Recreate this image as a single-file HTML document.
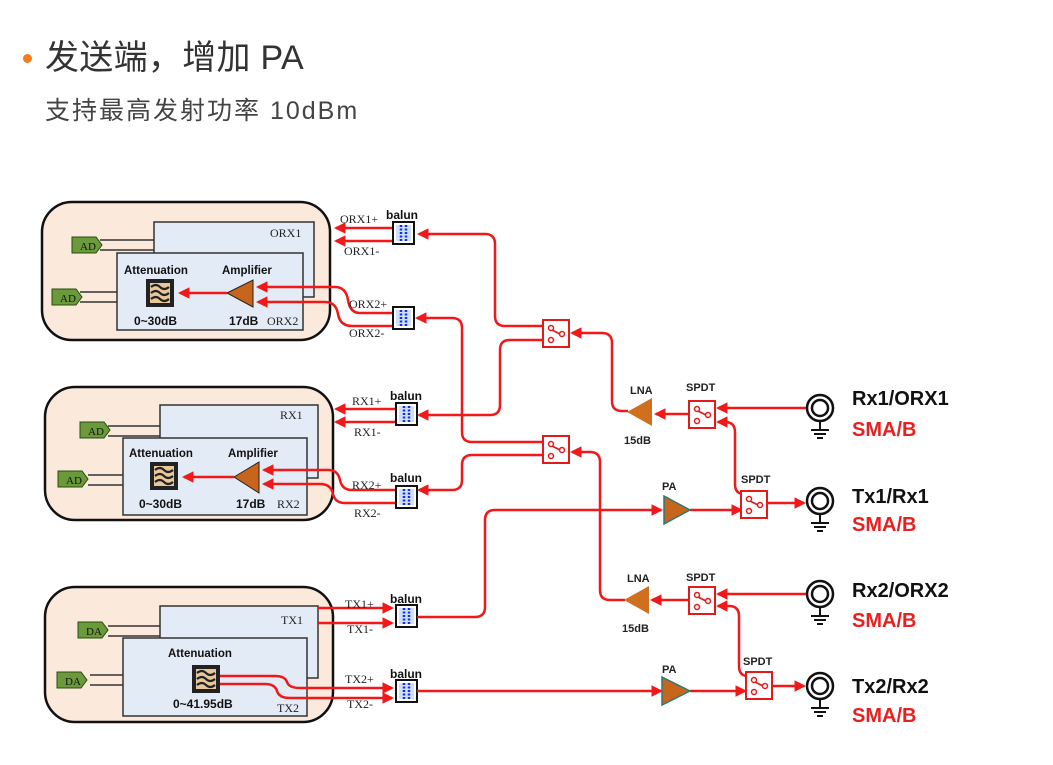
<!DOCTYPE html>
<html><head><meta charset="utf-8"><style>
html,body{margin:0;padding:0;background:#fff;}
body{width:1053px;height:765px;overflow:hidden;position:relative;font-family:"Liberation Sans","Noto Sans CJK SC",sans-serif;}
.h1{position:absolute;left:45px;top:37px;font-size:34px;line-height:42px;color:#333;white-space:nowrap;letter-spacing:0.3px;}
.dot{position:absolute;left:23px;top:54px;width:9px;height:9px;border-radius:50%;background:#f07c1e;}
.h2{position:absolute;left:45px;top:95px;font-size:25px;line-height:32px;color:#444;white-space:nowrap;letter-spacing:2px;}
svg{position:absolute;left:0;top:0;}
.w{fill:none;stroke:#f01818;stroke-width:2.5;}
.b{font-family:"Liberation Sans",sans-serif;font-weight:bold;}
.s{font-family:"Liberation Serif",serif;}
</style></head><body>
<div class="dot"></div>
<div class="h1">发送端，增加 PA</div>
<div class="h2">支持最高发射功率 10dBm</div>
<svg width="1053" height="765" viewBox="0 0 1053 765">
<defs>
<marker id="a" markerWidth="4.6" markerHeight="4.6" refX="3.8" refY="2.3" orient="auto" markerUnits="strokeWidth"><path d="M0,0 L4.6,2.3 L0,4.6 Z" fill="#f01818"/></marker>
<g id="att"><rect x="0" y="0" width="28" height="28" fill="#222"/><rect x="4" y="4" width="20" height="20" fill="#e8c79a"/><path d="M5,8 q5,-4 9,0 t9,0 M5,14 q5,-4 9,0 t9,0 M5,20 q5,-4 9,0 t9,0" stroke="#222" stroke-width="2.2" fill="none"/></g>
<g id="bal"><rect x="0" y="0" width="21" height="22" fill="#fff" stroke="#111" stroke-width="2"/><rect x="3" y="3" width="15" height="16" fill="#cfe0ff"/><path d="M8,3 v16 M13,3 v16" stroke="#1030e0" stroke-width="2.5" stroke-dasharray="2,1.5"/></g>
<g id="sw"><rect x="0" y="0" width="26" height="27" fill="#fff" stroke="#e21a1a" stroke-width="2"/><circle cx="8" cy="8" r="2.5" fill="none" stroke="#e21a1a" stroke-width="1.5"/><circle cx="8" cy="20" r="2.5" fill="none" stroke="#e21a1a" stroke-width="1.5"/><circle cx="19" cy="14" r="2.5" fill="none" stroke="#e21a1a" stroke-width="1.5"/><path d="M9,10 L17,14" stroke="#e21a1a" stroke-width="1.8"/></g>
<g id="sma"><circle r="13" fill="#fff" stroke="#111" stroke-width="2.5"/><circle r="8" fill="none" stroke="#111" stroke-width="2.5"/><path d="M0,13 v9 M-9,22 h18 M-6,26 h12 M-3,30 h6" stroke="#111" stroke-width="2"/></g>
</defs>

<!-- ORX block -->
<rect x="42" y="202" width="288" height="138" rx="30" fill="#fbe9dc" stroke="#111" stroke-width="2.5"/>
<rect x="154" y="222" width="160" height="75" fill="#e3ebf6" stroke="#333" stroke-width="1.5"/>
<rect x="117" y="253" width="186" height="77" fill="#e3ebf6" stroke="#333" stroke-width="1.5"/>
<path d="M100,240 H154 M100,250 H154" stroke="#333" stroke-width="1.5"/>
<path d="M80,292 H117 M80,302 H117" stroke="#333" stroke-width="1.5"/>
<path d="M72,237 h24 l6,8 l-6,8 h-24 z" fill="#6b9a3a" stroke="#2a4a10"/>
<text x="80" y="250" class="s" font-size="11" fill="#111">AD</text>
<path d="M52,289 h24 l6,8 l-6,8 h-24 z" fill="#6b9a3a" stroke="#2a4a10"/>
<text x="60" y="302" class="s" font-size="11" fill="#111">AD</text>
<text x="270" y="237" class="s" font-size="12" fill="#222">ORX1</text>
<text x="124" y="274" class="b" font-size="11.5" fill="#111">Attenuation</text>
<text x="222" y="274" class="b" font-size="11.5" fill="#111">Amplifier</text>
<use href="#att" x="146" y="279"/>
<path d="M227,293 L253,280 L253,307 Z" fill="#c8651c" stroke="#222"/>
<path class="w" d="M227,293 H180" marker-end="url(#a)"/>
<text x="134" y="325" class="b" font-size="12" fill="#111">0~30dB</text>
<text x="229" y="325" class="b" font-size="12" fill="#111">17dB</text>
<text x="267" y="325" class="s" font-size="12" fill="#222">ORX2</text>

<!-- RX block -->
<rect x="45" y="387" width="288" height="133" rx="30" fill="#fbe9dc" stroke="#111" stroke-width="2.5"/>
<rect x="160" y="405" width="158" height="73" fill="#e3ebf6" stroke="#333" stroke-width="1.5"/>
<rect x="123" y="438" width="184" height="77" fill="#e3ebf6" stroke="#333" stroke-width="1.5"/>
<path d="M108,426 H160 M108,436 H160" stroke="#333" stroke-width="1.5"/>
<path d="M88,475 H123 M88,485 H123" stroke="#333" stroke-width="1.5"/>
<path d="M80,422 h24 l6,8 l-6,8 h-24 z" fill="#6b9a3a" stroke="#2a4a10"/>
<text x="88" y="435" class="s" font-size="11" fill="#111">AD</text>
<path d="M58,471 h24 l6,8 l-6,8 h-24 z" fill="#6b9a3a" stroke="#2a4a10"/>
<text x="66" y="484" class="s" font-size="11" fill="#111">AD</text>
<text x="280" y="419" class="s" font-size="12" fill="#222">RX1</text>
<text x="129" y="457" class="b" font-size="11.5" fill="#111">Attenuation</text>
<text x="228" y="457" class="b" font-size="11.5" fill="#111">Amplifier</text>
<use href="#att" x="150" y="462"/>
<path d="M234,477 L259,462 L259,493 Z" fill="#c8651c" stroke="#222"/>
<path class="w" d="M234,477 H184" marker-end="url(#a)"/>
<text x="139" y="508" class="b" font-size="12" fill="#111">0~30dB</text>
<text x="236" y="508" class="b" font-size="12" fill="#111">17dB</text>
<text x="277" y="508" class="s" font-size="12" fill="#222">RX2</text>

<!-- TX block -->
<rect x="45" y="587" width="288" height="135" rx="30" fill="#fbe9dc" stroke="#111" stroke-width="2.5"/>
<rect x="160" y="606" width="158" height="72" fill="#e3ebf6" stroke="#333" stroke-width="1.5"/>
<rect x="123" y="638" width="184" height="78" fill="#e3ebf6" stroke="#333" stroke-width="1.5"/>
<path d="M108,626 H160 M108,636 H160" stroke="#333" stroke-width="1.5"/>
<path d="M90,675 H123 M90,685 H123" stroke="#333" stroke-width="1.5"/>
<path d="M78,622 h24 l6,8 l-6,8 h-24 z" fill="#6b9a3a" stroke="#2a4a10"/>
<text x="86" y="635" class="s" font-size="11" fill="#111">DA</text>
<path d="M57,672 h24 l6,8 l-6,8 h-24 z" fill="#6b9a3a" stroke="#2a4a10"/>
<text x="65" y="685" class="s" font-size="11" fill="#111">DA</text>
<text x="281" y="624" class="s" font-size="12" fill="#222">TX1</text>
<text x="168" y="657" class="b" font-size="11.5" fill="#111">Attenuation</text>
<use href="#att" x="192" y="665"/>
<text x="173" y="708" class="b" font-size="12" fill="#111">0~41.95dB</text>
<text x="277" y="712" class="s" font-size="12" fill="#222">TX2</text>

<!-- wires to blocks -->
<path class="w" d="M393,228 H336" marker-end="url(#a)"/>
<path class="w" d="M393,241 H336" marker-end="url(#a)"/>
<path class="w" d="M393,313 H360 Q350,313 348,300 Q346,287 335,287 H258" marker-end="url(#a)"/>
<path class="w" d="M393,326 H352 Q340,326 338,314 Q336,302 325,302 H258" marker-end="url(#a)"/>
<path class="w" d="M396,409 H336" marker-end="url(#a)"/>
<path class="w" d="M396,422 H336" marker-end="url(#a)"/>
<path class="w" d="M396,490 H352 Q342,490 340,480 Q338,470 328,470 H264" marker-end="url(#a)"/>
<path class="w" d="M396,503 H345 Q335,503 333,494 Q331,484 320,484 H264" marker-end="url(#a)"/>
<path class="w" d="M318,608 H392" marker-end="url(#a)"/>
<path class="w" d="M318,623 H392" marker-end="url(#a)"/>
<path class="w" d="M220,676 H275 Q285,676 287,682 Q289,688 300,688 H392" marker-end="url(#a)"/>
<path class="w" d="M220,684 H265 Q275,684 277,691 Q279,698 290,698 H392" marker-end="url(#a)"/>

<!-- baluns -->
<use href="#bal" x="393" y="222"/>
<use href="#bal" x="393" y="307"/>
<use href="#bal" x="396" y="403"/>
<use href="#bal" x="396" y="486"/>
<use href="#bal" x="396" y="605"/>
<use href="#bal" x="396" y="680"/>
<g class="s" font-size="12" fill="#222">
<text x="340" y="223">ORX1+</text><text x="344" y="255">ORX1-</text>
<text x="349" y="308">ORX2+</text><text x="349" y="337">ORX2-</text>
<text x="352" y="405">RX1+</text><text x="354" y="436">RX1-</text>
<text x="352" y="489">RX2+</text><text x="354" y="517">RX2-</text>
<text x="345" y="608">TX1+</text><text x="347" y="633">TX1-</text>
<text x="345" y="683">TX2+</text><text x="347" y="708">TX2-</text>
</g>
<g class="b" font-size="12" fill="#111">
<text x="386" y="219">balun</text><text x="390" y="400">balun</text><text x="390" y="482">balun</text>
<text x="390" y="603">balun</text><text x="390" y="678">balun</text>
</g>

<!-- routing -->
<path class="w" d="M543,326 H505 Q495,326 495,316 V244 Q495,234 485,234 H419" marker-end="url(#a)"/>
<path class="w" d="M543,340 H510 Q500,340 500,350 V405 Q500,415 490,415 H419" marker-end="url(#a)"/>
<path class="w" d="M543,442 H472 Q462,442 462,432 V328 Q462,318 452,318 H417" marker-end="url(#a)"/>
<path class="w" d="M543,455 H472 Q462,455 462,465 V480 Q462,490 452,490 H419" marker-end="url(#a)"/>
<path class="w" d="M628,411 H622 Q612,411 612,401 V343 Q612,333 602,333 H572" marker-end="url(#a)"/>
<path class="w" d="M625,600 H610 Q600,600 600,590 V462 Q600,452 590,452 H572" marker-end="url(#a)"/>
<path class="w" d="M417,617 H475 Q485,617 485,607 V520 Q485,510 495,510 H661" marker-end="url(#a)"/>
<path class="w" d="M417,691 H661" marker-end="url(#a)"/>
<path class="w" d="M690,510 H741" marker-end="url(#a)"/>
<path class="w" d="M690,691 H745" marker-end="url(#a)"/>
<path class="w" d="M767,503 H804" marker-end="url(#a)"/>
<path class="w" d="M772,686 H804" marker-end="url(#a)"/>
<path class="w" d="M807,408 H718" marker-end="url(#a)"/>
<path class="w" d="M807,594 H718" marker-end="url(#a)"/>
<path class="w" d="M744,494 Q735,494 735,484 V432 Q735,422 725,422 H718" marker-end="url(#a)"/>
<path class="w" d="M748,676 Q739,676 739,666 V616 Q739,606 729,606 H718" marker-end="url(#a)"/>
<path class="w" d="M689,414 H656" marker-end="url(#a)"/>
<path class="w" d="M689,600 H652" marker-end="url(#a)"/>

<use href="#sw" x="543" y="320"/>
<use href="#sw" x="543" y="436"/>
<use href="#sw" x="689" y="401"/>
<use href="#sw" x="741" y="491"/>
<use href="#sw" x="689" y="587"/>
<use href="#sw" x="746" y="672"/>

<path d="M627,412 L652,398 L652,426 Z" fill="#d0701e"/>
<path d="M624,600 L649,586 L649,614 Z" fill="#d0701e"/>
<path d="M664,496 L690,510 L664,524 Z" fill="#c8651c" stroke="#2a7a7a" stroke-width="1.5"/>
<path d="M662,677 L690,691 L662,705 Z" fill="#c8651c" stroke="#2a7a7a" stroke-width="1.5"/>
<g class="b" font-size="11" fill="#222">
<text x="630" y="394">LNA</text><text x="624" y="444">15dB</text>
<text x="627" y="582">LNA</text><text x="622" y="632">15dB</text>
<text x="662" y="490">PA</text><text x="662" y="673">PA</text>
<text x="686" y="391">SPDT</text><text x="741" y="483">SPDT</text>
<text x="686" y="581">SPDT</text><text x="743" y="665">SPDT</text>
</g>

<use href="#sma" x="820" y="408"/>
<use href="#sma" x="820" y="501"/>
<use href="#sma" x="820" y="594"/>
<use href="#sma" x="820" y="686"/>
<g class="b" font-size="20">
<text x="852" y="405" fill="#111">Rx1/ORX1</text><text x="852" y="436" fill="#e82020">SMA/B</text>
<text x="852" y="503" fill="#111">Tx1/Rx1</text><text x="852" y="531" fill="#e82020">SMA/B</text>
<text x="852" y="597" fill="#111">Rx2/ORX2</text><text x="852" y="627" fill="#e82020">SMA/B</text>
<text x="852" y="693" fill="#111">Tx2/Rx2</text><text x="852" y="722" fill="#e82020">SMA/B</text>
</g>
</svg>
</body></html>
